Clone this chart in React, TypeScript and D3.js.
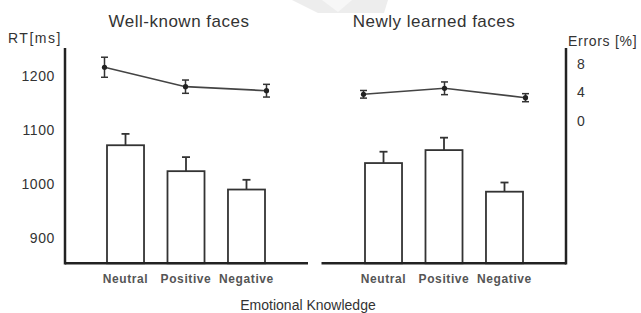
import React from "react";
import * as d3 from "d3";

const categories = ["Neutral", "Positive", "Negative"];
const panelTitles = ["Well-known faces", "Newly learned faces"];
const rtValues = [
  [1071, 1023, 989],
  [1038, 1062, 985],
];
const rtErrors = [
  [21, 26, 18],
  [21, 23, 17],
];
const errorRates = [
  [7.54, 4.79, 4.22],
  [3.71, 4.56, 3.23],
];
const errorRateSE = [
  [1.42, 0.94, 0.9],
  [0.54, 0.9, 0.57],
];
const rtTicks = [900, 1000, 1100, 1200];
const errTicks = [0, 4, 8];

const W = 641;
const H = 313;
const axisTop = 48;
const baseY = 263.3;
const leftAxisX = 65;
const rightAxisX = 566;
const panelBarRanges: [number, number][] = [
  [107, 265],
  [365, 523],
];
const panelPointRanges: [number, number][] = [
  [104.5, 266.5],
  [363.5, 525.5],
];
const baselineRanges: [number, number][] = [
  [leftAxisX, 308],
  [321.5, rightAxisX],
];
const titleX = [179, 434];

const font = "'Liberation Sans', Arial, Helvetica, sans-serif";

export default function App() {
  const y = d3.scaleLinear().domain([853, 1251]).range([263, 48]);
  const yErr = d3.scaleLinear().domain([0, 8]).range([120.5, 64]);
  const line = d3.line<[number, number]>().x((d) => d[0]).y((d) => d[1]);

  return (
    <div style={{ position: "absolute", left: 0, top: 0 }}>
      <svg width={W} height={H} style={{ display: "block", background: "#fff" }} fontFamily={font}>
        <rect x={0} y={0} width={W} height={H} fill="#fff" />
        {/* faint watermark */}
        <polygon points="292,0 388,0 384,13 318,13" fill="#ededed" />
        <polygon points="322,0 352,0 338,12" fill="#f7f7f7" />

        {panelTitles.map((t, i) => (
          <text key={t} x={titleX[i]} y={27} textAnchor="middle" fontSize={17} letterSpacing={0.5} fill="#333">
            {t}
          </text>
        ))}

        <text x={8} y={43} fontSize={14} letterSpacing={1.5} fill="#333">RT[ms]</text>
        <text x={568} y={46} fontSize={14} letterSpacing={0.7} fill="#333">Errors [%]</text>

        {rtTicks.map((t) => (
          <text key={t} x={55} y={y(t)} dy="0.36em" textAnchor="end" fontSize={14} letterSpacing={0.6} fill="#333">
            {t}
          </text>
        ))}
        {errTicks.map((t) => (
          <text key={t} x={577} y={yErr(t)} dy="0.36em" fontSize={14} fill="#333">
            {t}
          </text>
        ))}

        {panelTitles.map((_, p) => {
          const xb = d3.scaleBand<string>().domain(categories).range(panelBarRanges[p]).paddingInner(0.388).paddingOuter(0);
          const xp = d3.scalePoint<string>().domain(categories).range(panelPointRanges[p]);
          const bw = xb.bandwidth();
          const pts: [number, number][] = categories.map((c, i) => [xp(c)!, yErr(errorRates[p][i])]);
          return (
            <g key={p}>
              {categories.map((c, i) => {
                const x0 = xb(c)!;
                const cx = x0 + bw / 2;
                const top = y(rtValues[p][i]);
                const cap = y(rtValues[p][i] + rtErrors[p][i]);
                return (
                  <g key={c}>
                    <line x1={cx} x2={cx} y1={top} y2={cap} stroke="#333" strokeWidth={1.8} />
                    <line x1={cx - 4} x2={cx + 4} y1={cap} y2={cap} stroke="#333" strokeWidth={1.8} />
                    <rect x={x0} y={top} width={bw} height={baseY - top} fill="#fff" stroke="#333" strokeWidth={1.8} />
                    <text x={cx} y={283} textAnchor="middle" fontSize={12} fontWeight="bold" letterSpacing={0.6} fill="#555">
                      {c}
                    </text>
                  </g>
                );
              })}
              <path d={line(pts) || ""} fill="none" stroke="#444" strokeWidth={1.6} />
              {categories.map((c, i) => {
                const cx = xp(c)!;
                const hi = yErr(errorRates[p][i] + errorRateSE[p][i]);
                const lo = yErr(errorRates[p][i] - errorRateSE[p][i]);
                return (
                  <g key={c}>
                    <line x1={cx} x2={cx} y1={hi} y2={lo} stroke="#333" strokeWidth={1.5} />
                    <line x1={cx - 3.5} x2={cx + 3.5} y1={hi} y2={hi} stroke="#333" strokeWidth={1.5} />
                    <line x1={cx - 3.5} x2={cx + 3.5} y1={lo} y2={lo} stroke="#333" strokeWidth={1.5} />
                    <circle cx={cx} cy={yErr(errorRates[p][i])} r={2.6} fill="#222" />
                  </g>
                );
              })}
              <line x1={baselineRanges[p][0]} x2={baselineRanges[p][1]} y1={baseY} y2={baseY} stroke="#222" strokeWidth={2.5} />
            </g>
          );
        })}

        <line x1={leftAxisX} x2={leftAxisX} y1={axisTop} y2={baseY + 1.2} stroke="#222" strokeWidth={2.5} />
        <line x1={rightAxisX} x2={rightAxisX} y1={axisTop} y2={baseY + 1.2} stroke="#222" strokeWidth={2.5} />

        <text x={308} y={310} textAnchor="middle" fontSize={14} fill="#333">Emotional Knowledge</text>
      </svg>
    </div>
  );
}
